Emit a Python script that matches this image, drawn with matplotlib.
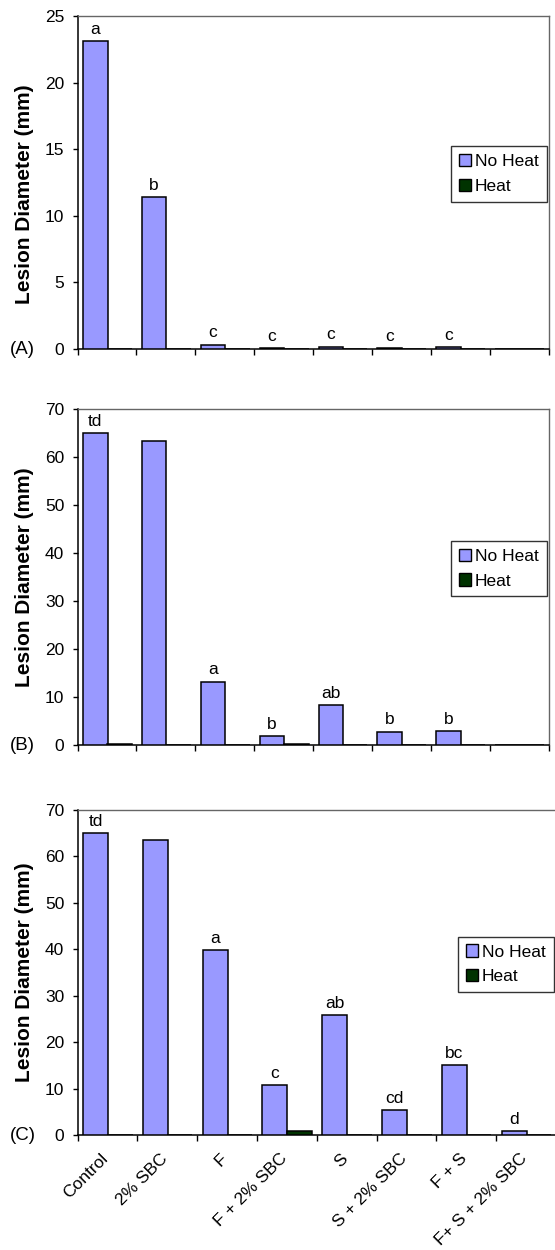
import numpy as np
import matplotlib
matplotlib.use("Agg")
import matplotlib.pyplot as plt
from matplotlib.patches import Patch
from matplotlib.ticker import FixedLocator, NullFormatter
from matplotlib.transforms import ScaledTranslation

plt.rcParams["font.family"] = ["Liberation Sans", "DejaVu Sans"]

# treatments along the x axis
categories = ["Control", "2% SBC", "F", "F + 2% SBC", "S",
              "S + 2% SBC", "F + S", "F+ S + 2% SBC"]

# panel A
a_noheat = [23.1, 11.4, 0.33, 0.08, 0.18, 0.07, 0.15, 0.0]
a_heat = [0.0, 0.0, 0.0, 0.0, 0.0, 0.0, 0.0, 0.0]
a_letters = ["a", "b", "c", "c", "c", "c", "c", ""]

# panel B
b_noheat = [65.0, 63.3, 13.2, 1.8, 8.4, 2.8, 2.9, 0.0]
b_heat = [0.25, 0.0, 0.0, 0.25, 0.0, 0.0, 0.0, 0.0]
b_letters = ["td", "", "a", "b", "ab", "b", "b", ""]

# panel C
c_noheat = [65.1, 63.5, 39.8, 10.7, 25.9, 5.4, 15.0, 0.8]
c_heat = [0.0, 0.0, 0.0, 0.8, 0.0, 0.0, 0.0, 0.0]
c_letters = ["td", "", "a", "c", "ab", "cd", "bc", "d"]

NOHEAT_COLOR = "#9999FF"
HEAT_COLOR = "#003300"
FS = 12.5

W, H = 555, 1250


def draw_panel(ax, noheat, heat, letters, ymax, ystep, tag, show_labels,
               label_y=0.5):
    x = np.arange(len(categories))
    ax.bar(x - 0.2, noheat, width=0.42, color=NOHEAT_COLOR,
           edgecolor="black", linewidth=1.1, zorder=3)
    ax.bar(x + 0.21, heat, width=0.42, color=HEAT_COLOR,
           edgecolor="black", linewidth=1.1, zorder=3)

    for xi, v, lab in zip(x, noheat, letters):
        if lab:
            ax.annotate(lab, (xi - 0.2, v), xytext=(0, 3),
                        textcoords="offset points", ha="center",
                        va="bottom", fontsize=FS)

    ax.set_xlim(-0.5, len(categories) - 0.5)
    ax.set_ylim(0, ymax)
    ax.set_yticks(np.arange(0, ymax + 1, ystep))

    # tick marks between categories, labels at the centres
    ax.xaxis.set_major_locator(FixedLocator(np.arange(-0.5, len(categories), 1.0)))
    ax.xaxis.set_major_formatter(NullFormatter())
    ax.xaxis.set_minor_locator(FixedLocator(x))
    ax.tick_params(axis="x", which="major", direction="out", length=4.5,
                   width=1.0, color="black")
    ax.tick_params(axis="x", which="minor", length=0, pad=11.5)
    ax.tick_params(axis="y", direction="out", length=3.5, width=1.0,
                   labelsize=FS, pad=6)
    if show_labels:
        ax.set_xticks(x, categories, minor=True, fontsize=FS,
                      rotation=45, ha="right", va="top",
                      rotation_mode="anchor")
        shift = ScaledTranslation(-7 / 100, 0, ax.figure.dpi_scale_trans)
        for lbl in ax.get_xticklabels(minor=True):
            lbl.set_transform(lbl.get_transform() + shift)

    for side in ["left", "bottom"]:
        ax.spines[side].set_color("black")
        ax.spines[side].set_linewidth(1.1)
    for side in ["top", "right"]:
        ax.spines[side].set_color("#666666")
        ax.spines[side].set_linewidth(1.0)

    ax.set_ylabel("Lesion Diameter (mm)", fontsize=15, fontweight="bold")
    ax.yaxis.set_label_coords(-0.0915, label_y)

    handles = [Patch(facecolor=NOHEAT_COLOR, edgecolor="black", label="No Heat"),
               Patch(facecolor=HEAT_COLOR, edgecolor="black", label="Heat")]
    leg = ax.legend(handles=handles, loc="center right",
                    bbox_to_anchor=(0.995, 0.525), fontsize=FS,
                    handlelength=0.7, handleheight=0.7, handletextpad=0.25,
                    labelspacing=0.55, borderpad=0.45, fancybox=False,
                    framealpha=1, borderaxespad=0)
    leg.get_frame().set_edgecolor("#333333")
    leg.get_frame().set_linewidth(1.0)

    pos = ax.get_position()
    ax.figure.text(10 / W, pos.y0, tag, fontsize=13.5, va="center", ha="left")


def main():
    fig = plt.figure(figsize=(W / 100, H / 100), dpi=100)
    left = 77.5 / W
    ax_a = fig.add_axes([left, (H - 349) / H, (549 - 77.5) / W, 333 / H])
    ax_b = fig.add_axes([left, (H - 745) / H, (549 - 77.5) / W, 336 / H])
    ax_c = fig.add_axes([left, (H - 1135) / H, (556 - 77.5) / W, 325 / H])

    draw_panel(ax_a, a_noheat, a_heat, a_letters, 25, 5, "(A)", False,
               label_y=0.465)
    draw_panel(ax_b, b_noheat, b_heat, b_letters, 70, 10, "(B)", False)
    draw_panel(ax_c, c_noheat, c_heat, c_letters, 70, 10, "(C)", True)

    fig.savefig("out.png", dpi=100)


if __name__ == "__main__":
    main()
